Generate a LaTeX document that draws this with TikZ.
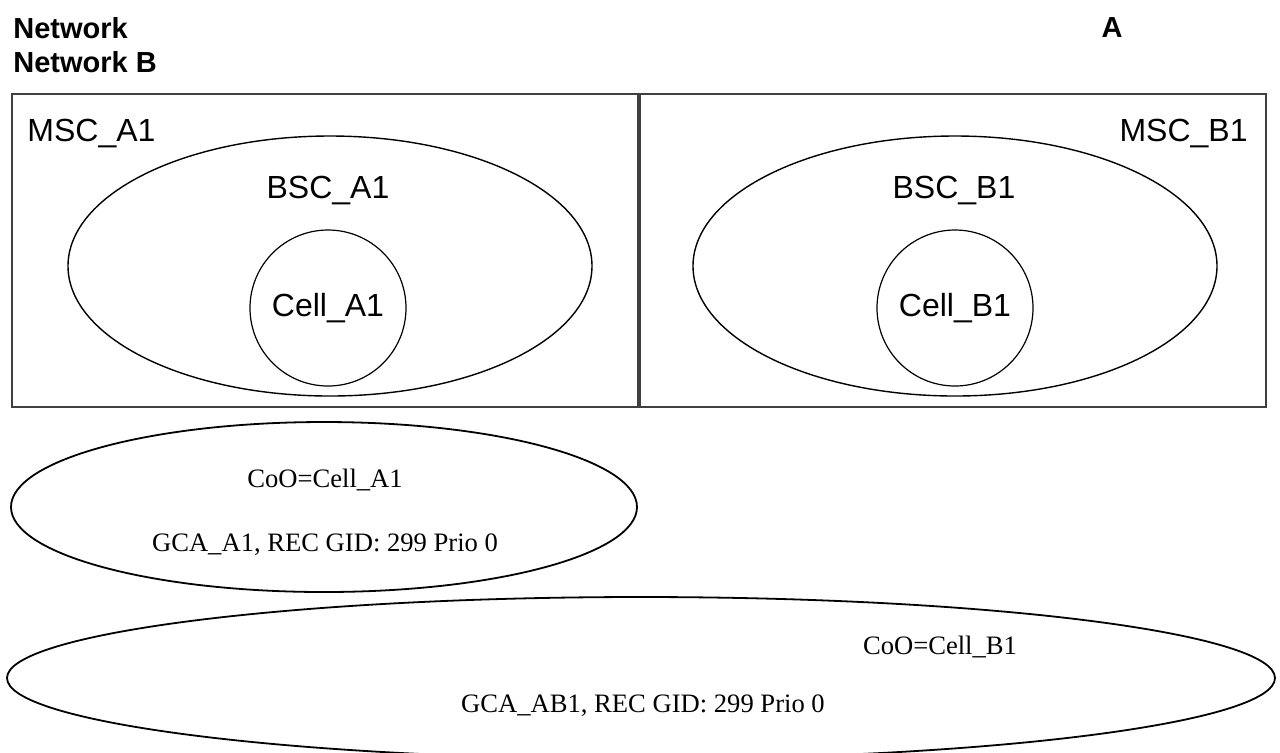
\documentclass[tikz,border=0pt]{standalone}
\usepackage{fontspec}
\setmainfont{Liberation Serif}
\setsansfont{Liberation Sans}
\usepackage{tikz}
\usetikzlibrary{shapes.geometric}
\tikzset{frame/.style = {draw = black!75, line width = 1pt}}
\tikzset{zone/.style = {shape = ellipse, draw, line width = 0.7pt, inner sep = 0pt}}
\tikzset{cellring/.style = {shape = circle, draw, line width = 0.6pt, minimum size = 78pt, inner sep = 0pt,
    font = \sffamily\fontsize{16}{19}\selectfont}}
\tikzset{sanslabel/.style = {inner sep = 0pt, font = \sffamily\fontsize{16}{19}\selectfont}}
\tikzset{headline/.style = {inner sep = 0pt, font = \sffamily\bfseries\fontsize{14.5}{17}\selectfont}}
\tikzset{gcalabel/.style = {inner sep = 0pt, font = \rmfamily\fontsize{13.3}{15}\selectfont}}

\begin{document}
\begin{tikzpicture}[x = 0.5pt, y = -0.5pt]
				\useasboundingbox (0, 0) rectangle (1280, 752);

				% network titles
				\node[headline, anchor = west] (netA) at (13, 28) {Network};
				\node[headline, anchor = west] (netB) at (13, 62) {Network B};
				\node[headline] (netAletter) at (1112, 28) {A};

				% MSC areas
				\draw[frame] (12, 94) rectangle (638, 407);
				\draw[frame] (640, 94) rectangle (1266, 407);
				\node[sanslabel, anchor = west] (mscA) at (27, 133) {MSC\_A1};
				\node[sanslabel, anchor = east] (mscB) at (1248, 133) {MSC\_B1};

				% BSC areas and cells
				\node[zone, minimum width = 262pt, minimum height = 130pt] (bscA) at (330, 266) {};
				\node[zone, minimum width = 262pt, minimum height = 130pt] (bscB) at (955, 266) {};
				\node[sanslabel] (bscAlabel) at (328, 190) {BSC\_A1};
				\node[sanslabel] (bscBlabel) at (954, 190) {BSC\_B1};
				\node[cellring] (cellA) at (328, 308) {Cell\_A1};
				\node[cellring] (cellB) at (955, 308) {Cell\_B1};

				% group call areas
				\node[zone, line width = 0.9pt, minimum width = 313pt, minimum height = 85pt] (gcaA) at (324, 507) {};
				\node[gcalabel] (cooA) at (325, 480) {CoO=Cell\_A1};
				\node[gcalabel] (gidA) at (325, 545) {GCA\_A1, REC GID: 299 Prio 0};

				\node[zone, line width = 0.9pt, minimum width = 634pt, minimum height = 81pt] (gcaAB) at (641, 678) {};
				\node[gcalabel] (cooB) at (940, 647) {CoO=Cell\_B1};
				\node[gcalabel] (gidAB) at (643, 706) {GCA\_AB1, REC GID: 299 Prio 0};
			\end{tikzpicture}
\end{document}
